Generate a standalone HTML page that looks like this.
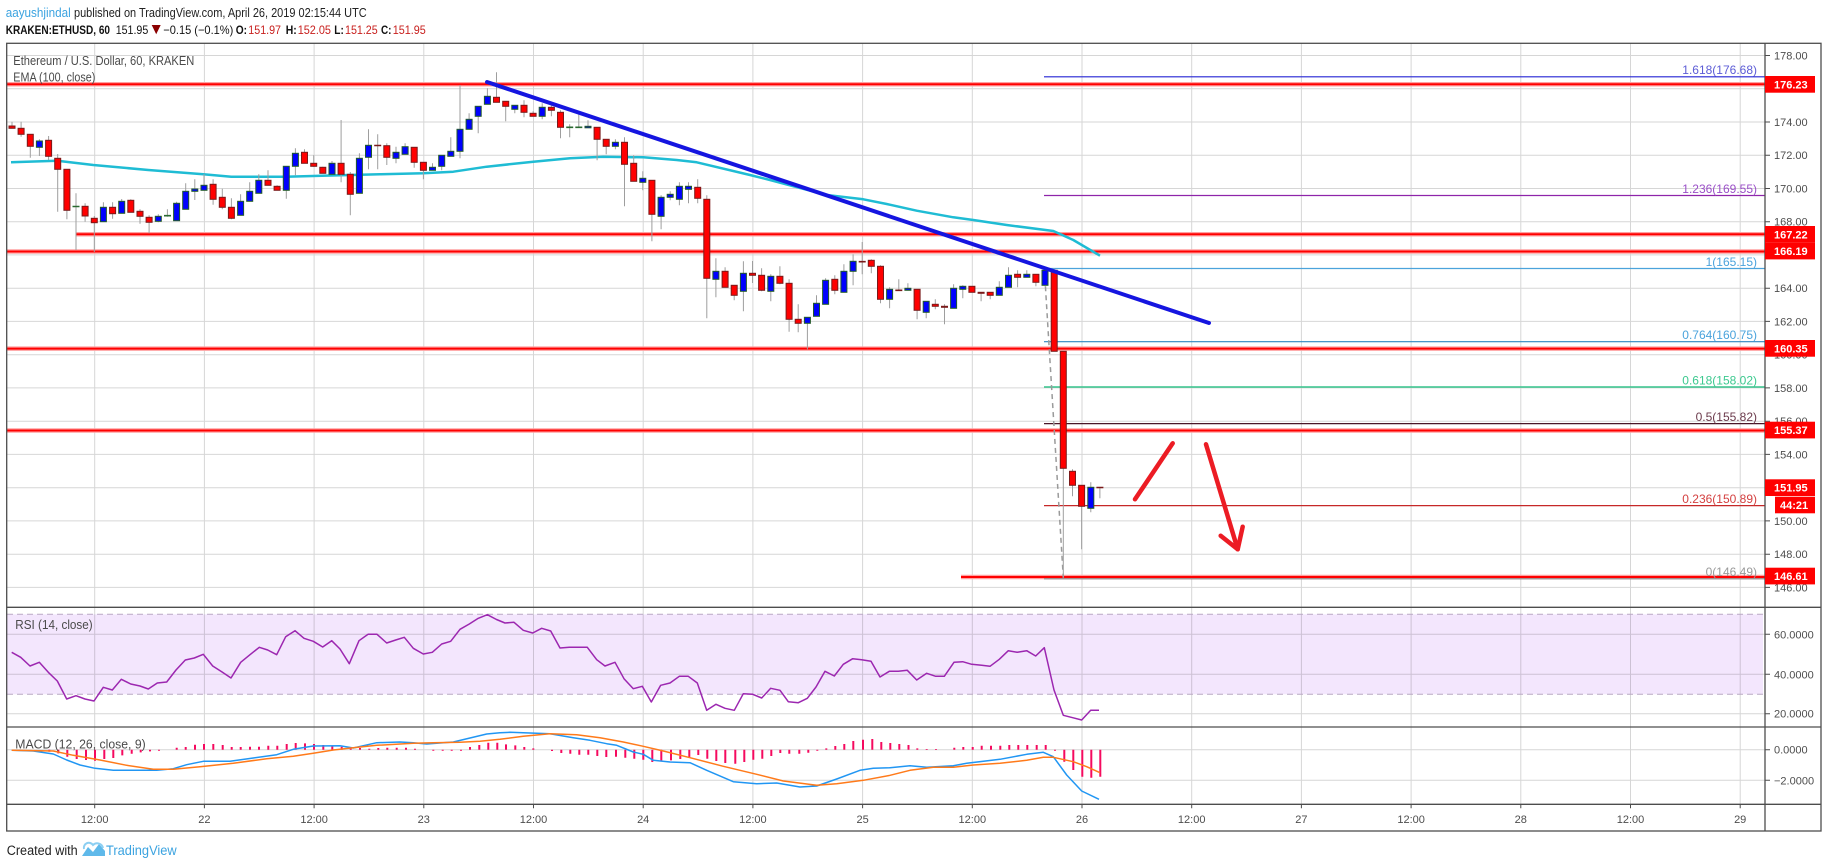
<!DOCTYPE html>
<html><head><meta charset="utf-8"><style>
html,body{margin:0;padding:0;background:#fff;}
svg{display:block;}
text{font-family:"Liberation Sans",Arial,sans-serif;}
</style></head><body>
<svg width="1828" height="868" viewBox="0 0 1828 868" xmlns="http://www.w3.org/2000/svg">
<rect width="1828" height="868" fill="#fff"/>
<!-- header -->
<text x="5.7" y="17" font-size="13" fill="#3ba3e0" textLength="65" lengthAdjust="spacingAndGlyphs">aayushjindal</text>
<text x="74" y="17" font-size="13" fill="#222" textLength="292.7" lengthAdjust="spacingAndGlyphs">published on TradingView.com, April 26, 2019 02:15:44 UTC</text>
<g font-size="12" fill="#111">
<text x="5.7" y="34" font-weight="bold" textLength="104.3" lengthAdjust="spacingAndGlyphs">KRAKEN:ETHUSD, 60</text>
<text x="115.7" y="34" textLength="32.6" lengthAdjust="spacingAndGlyphs">151.95</text>
<polygon points="151.7,25 160.7,25 156.2,34.3" fill="#8b0000"/>
<text x="163.3" y="34" textLength="70" lengthAdjust="spacingAndGlyphs">−0.15 (−0.1%)</text>
<text x="235.7" y="34" font-weight="bold" textLength="11.3" lengthAdjust="spacingAndGlyphs">O:</text>
<text x="248.3" y="34" fill="#c8201e" textLength="32.7" lengthAdjust="spacingAndGlyphs">151.97</text>
<text x="285.7" y="34" font-weight="bold" textLength="11" lengthAdjust="spacingAndGlyphs">H:</text>
<text x="297.7" y="34" fill="#c8201e" textLength="33.3" lengthAdjust="spacingAndGlyphs">152.05</text>
<text x="334.3" y="34" font-weight="bold" textLength="9.5" lengthAdjust="spacingAndGlyphs">L:</text>
<text x="345" y="34" fill="#c8201e" textLength="32.7" lengthAdjust="spacingAndGlyphs">151.25</text>
<text x="381" y="34" font-weight="bold" textLength="10.5" lengthAdjust="spacingAndGlyphs">C:</text>
<text x="392.7" y="34" fill="#c8201e" textLength="33" lengthAdjust="spacingAndGlyphs">151.95</text>
</g>

<!-- RSI background band -->
<rect x="7" y="614.3" width="1756" height="80" fill="#f3e6fd"/>

<!-- grid -->
<path fill="none" stroke="rgba(0,0,0,0.16)" stroke-width="1" d="
M94.7 43V804M204.4 43V804M314.1 43V804M423.8 43V804M533.5 43V804M643.2 43V804M752.9 43V804M862.6 43V804M972.3 43V804M1082 43V804M1191.7 43V804M1301.4 43V804M1411.1 43V804M1520.8 43V804M1630.5 43V804M1740.2 43V804
M7 55.5H1765M7 88.7H1765M7 122H1765M7 155.2H1765M7 188.5H1765M7 221.7H1765M7 254.9H1765M7 288.2H1765M7 321.4H1765M7 354.7H1765M7 387.9H1765M7 421.2H1765M7 454.4H1765M7 487.7H1765M7 520.9H1765M7 554.2H1765M7 587.4H1765
M7 634.3H1765M7 674.3H1765M7 713.7H1765
M7 749.7H1765M7 780.3H1765"/>
<path fill="none" stroke="#b9a9c4" stroke-width="1" stroke-dasharray="6 4" d="M7 614.3H1763M7 694.3H1763"/>

<!-- red horizontal levels -->
<path fill="none" stroke="#ffa0a0" stroke-width="4.5" d="M7 84.3H1765M76 234.3H1765M7 251.5H1765M7 348.6H1765M7 430.5H1765M961 577H1765"/>
<path fill="none" stroke="#ff0000" stroke-width="2" d="M7 84.3H1765M76 234.3H1765M7 251.5H1765M7 348.6H1765M7 430.5H1765M961 577H1765"/>

<!-- fib lines -->
<g fill="none" stroke-width="1.2">
<path d="M1044 76.8H1765" stroke="#2424d4"/>
<path d="M1044 195.5H1765" stroke="#8e24aa"/>
<path d="M1044 268.5H1765" stroke="#4ba3dc"/>
<path d="M1044 341.7H1765" stroke="#2f86c0"/>
<path d="M1044 387H1765" stroke="#35c48c" stroke-width="1.6"/>
<path d="M1044 423.6H1765" stroke="#4a1728"/>
<path d="M1044 505.6H1765" stroke="#c62828"/>
<path d="M1044 578.8H1765" stroke="#888"/>
</g>
<g font-size="12" text-anchor="end">
<text x="1757" y="74" fill="#5c5cd6">1.618(176.68)</text>
<text x="1757" y="193" fill="#9b4fc8">1.236(169.55)</text>
<text x="1757" y="266" fill="#4ba3dc">1(165.15)</text>
<text x="1757" y="339" fill="#4aa3dc">0.764(160.75)</text>
<text x="1757" y="384.5" fill="#3cc98f">0.618(158.02)</text>
<text x="1757" y="421" fill="#6b3a4b">0.5(155.82)</text>
<text x="1757" y="503" fill="#d44040">0.236(150.89)</text>
<text x="1757" y="576" fill="#999">0(146.49)</text>
</g>

<!-- EMA -->
<polyline fill="none" stroke="#1fbcd4" stroke-width="2.5" stroke-linejoin="round" points="11,162.3 57.3,160.7 93.3,165 148.3,170 203.3,174.3 231.3,176.7 285.3,176.7 340.3,175.3 380,174.3 423.3,173.3 453.3,171.7 486.7,166.7 533.3,161.7 570,158.3 603.3,156.7 643.3,157.3 676.7,160 696.7,162.3 750,175 770,180 826.7,195 863.3,199.3 886.7,204 916.7,210.7 953.3,217.3 973.3,220 1006.7,225 1053.3,231 1073.3,240 1100,255.7"/>

<!-- fib trend dashed -->
<path d="M1044.3 268.3L1063.3 577.7" stroke="#9a9a9a" stroke-width="1.5" stroke-dasharray="5 4" fill="none"/>

<!-- wicks -->
<path fill="none" stroke="#9e9e9e" stroke-width="1" d="M12 121.7V128.3M21.1 121.7V136.7M30.3 134.3V157.7M39.4 139.3V156M48.6 136V160M57.7 154V211.7M66.9 169.3V219.3M76 193.3V250M85.1 203.3V221.7M94.3 216V252M103.4 202.3V221.7M112.6 202.3V218.7M121.7 199V213.3M130.8 199.3V212.3M140 209.3V223.7M149.1 215.3V233.3M158.3 214.3V222.3M167.4 209.3V216.7M176.6 201.7V220.7M185.7 183.3V209.3M194.8 179.3V200M204 174V190.3M213.1 179.3V204.7M222.3 188.7V209.3M231.4 198.3V219.3M240.6 194.3V215.3M249.7 182.3V201.3M258.8 174.3V193.3M268 170.3V185.3M277.1 185.3V190.3M286.3 166.3V198.7M295.4 148.3V175.3M304.5 149.3V163.3M313.7 155.3V166.7M322.8 166.7V173.3M332 161V174.3M341.1 120V182.3M350.3 172V215.3M359.4 153.3V193.3M368.5 129.3V169.3M377.7 134.3V169.3M386.8 143.3V165M396 146.7V163.3M405.1 143.3V154.3M414.2 147.3V167.7M423.4 162.3V179.3M432.5 163.3V170.3M441.7 155.3V170.3M450.8 137.3V156.3M460 85V158.3M469.1 113.3V129.3M478.2 106.3V133.3M487.4 88.3V104.3M496.5 72.3V102.3M505.7 101.3V121.3M514.8 105.3V113.3M524 100.3V117.3M533.1 111.3V116.3M542.2 103.3V119.3M551.4 104.3V116.3M560.5 110.3V138.3M569.7 124.3V137.3M578.8 113.3V127.3M588 120.3V127.3M597.1 127.3V160.3M606.2 139.3V154.3M615.4 139.3V149.3M624.5 137.3V206.3M633.7 155.3V181.3M642.8 171.3V190.3M651.9 180.3V241.3M661.1 195.3V229.3M670.2 191.3V200.3M679.4 182.3V205.3M688.5 182.3V203.3M697.7 179.3V203.3M706.8 195.3V318.3M715.9 258.3V297.3M725.1 267.3V287.3M734.2 285.3V300.3M743.4 261.3V311.3M752.5 261V283M761.6 268.3V291.3M770.8 274.3V301.3M779.9 266.3V284.3M789.1 279.3V331.7M798.2 304.3V332.3M807.4 317.3V349.3M816.5 295.3V316.3M825.6 278.3V304.3M834.8 275.3V294.3M843.9 264.3V292.3M853.1 254.3V285.3M862.2 242V274.3M871.3 259.3V273.3M880.5 265.3V303.3M889.6 287.3V308.3M898.8 279.3V290.3M907.9 283.3V290.3M917.1 289.3V319.3M926.2 301.3V318.3M935.3 299.3V309.3M944.5 304.3V324.3M953.6 284.3V308.3M962.8 285.3V298.3M971.9 286.3V292.3M981.1 292.3V301.3M990.2 292.3V299.3M999.3 281.3V295.3M1008.5 267.3V287.3M1017.6 270.3V287.3M1026.8 270.3V277.3M1035.9 274.3V286.3M1045 267.3V285.3M1054.2 268.3V351.3M1063.3 351.3V577.7M1072.5 469.3V496.3M1081.6 485.3V549.3M1090.8 482.3V512.3M1099.9 487.3V498.3"/>

<!-- down candles -->
<g fill="#ff0000" stroke="#7a1a1a" stroke-width="1">
<rect x="9" y="126" width="6" height="2.3"/>
<rect x="18.1" y="128.3" width="6" height="6"/>
<rect x="27.3" y="134.3" width="6" height="12"/>
<rect x="45.6" y="140.3" width="6" height="16"/>
<rect x="54.7" y="158.3" width="6" height="11"/>
<rect x="63.9" y="169.3" width="6" height="41"/>
<rect x="82.1" y="206.3" width="6" height="9.7"/>
<rect x="91.3" y="218.3" width="6" height="4.4"/>
<rect x="109.6" y="207.3" width="6" height="6.4"/>
<rect x="127.8" y="200.3" width="6" height="12"/>
<rect x="137" y="211.3" width="6" height="5"/>
<rect x="146.1" y="217.3" width="6" height="5"/>
<rect x="210.1" y="184.3" width="6" height="15"/>
<rect x="219.3" y="197.3" width="6" height="10"/>
<rect x="228.4" y="207.3" width="6" height="11"/>
<rect x="265" y="180.3" width="6" height="5"/>
<rect x="274.1" y="186.3" width="6" height="4"/>
<rect x="301.5" y="152.3" width="6" height="11"/>
<rect x="310.7" y="163.3" width="6" height="3"/>
<rect x="319.8" y="167.3" width="6" height="6"/>
<rect x="338.1" y="163.3" width="6" height="11"/>
<rect x="347.3" y="174.3" width="6" height="20"/>
<rect x="383.8" y="145.7" width="6" height="11.6"/>
<rect x="411.2" y="147.3" width="6" height="15"/>
<rect x="420.4" y="162.3" width="6" height="8"/>
<rect x="493.5" y="97.3" width="6" height="5"/>
<rect x="502.7" y="101.3" width="6" height="5"/>
<rect x="521" y="105.3" width="6" height="7"/>
<rect x="530.1" y="113.3" width="6" height="3"/>
<rect x="548.4" y="107.3" width="6" height="3"/>
<rect x="557.5" y="112.3" width="6" height="15"/>
<rect x="594.1" y="127.3" width="6" height="12"/>
<rect x="603.2" y="139.3" width="6" height="7"/>
<rect x="621.5" y="142.3" width="6" height="22"/>
<rect x="630.7" y="163.3" width="6" height="18"/>
<rect x="648.9" y="180.3" width="6" height="34"/>
<rect x="694.7" y="187.3" width="6" height="11"/>
<rect x="703.8" y="199.3" width="6" height="79"/>
<rect x="722.1" y="271.3" width="6" height="16"/>
<rect x="731.2" y="285.3" width="6" height="10"/>
<rect x="749.5" y="273.3" width="6" height="2"/>
<rect x="758.6" y="275.3" width="6" height="15"/>
<rect x="776.9" y="276.3" width="6" height="7"/>
<rect x="786.1" y="283.3" width="6" height="36"/>
<rect x="795.2" y="319.3" width="6" height="4"/>
<rect x="831.8" y="279.3" width="6" height="11"/>
<rect x="868.3" y="260.3" width="6" height="6"/>
<rect x="877.5" y="266.3" width="6" height="33"/>
<rect x="914.1" y="289.3" width="6" height="21"/>
<rect x="932.3" y="304.3" width="6" height="2"/>
<rect x="941.5" y="306.3" width="6" height="1"/>
<rect x="968.9" y="286.3" width="6" height="6"/>
<rect x="978.1" y="292.3" width="6" height="1"/>
<rect x="987.2" y="292.3" width="6" height="3"/>
<rect x="1014.6" y="274.3" width="6" height="3"/>
<rect x="1032.9" y="274.3" width="6" height="8"/>
<rect x="1051.2" y="270.3" width="6" height="81"/>
<rect x="1060.3" y="351.3" width="6" height="117"/>
<rect x="1069.5" y="471.3" width="6" height="14"/>
<rect x="1078.6" y="485.3" width="6" height="21"/>
</g>
<!-- up candles -->
<g fill="#0000ff" stroke="#235a2a" stroke-width="1">
<rect x="36.4" y="141" width="6" height="6.3"/>
<rect x="100.4" y="207.3" width="6" height="14.4"/>
<rect x="118.7" y="201.3" width="6" height="12"/>
<rect x="155.3" y="216.3" width="6" height="5"/>
<rect x="173.6" y="203.3" width="6" height="17.4"/>
<rect x="182.7" y="191.3" width="6" height="18"/>
<rect x="191.8" y="189" width="6" height="2.3"/>
<rect x="201" y="185.3" width="6" height="5"/>
<rect x="237.6" y="201.3" width="6" height="14"/>
<rect x="246.7" y="191.3" width="6" height="10"/>
<rect x="255.8" y="180.3" width="6" height="13"/>
<rect x="283.3" y="166.3" width="6" height="24"/>
<rect x="292.4" y="153.3" width="6" height="13"/>
<rect x="329" y="163.3" width="6" height="11"/>
<rect x="356.4" y="158.3" width="6" height="35"/>
<rect x="365.5" y="145.3" width="6" height="12"/>
<rect x="393" y="152.3" width="6" height="6"/>
<rect x="402.1" y="146.7" width="6" height="7.6"/>
<rect x="429.5" y="167.3" width="6" height="3"/>
<rect x="438.7" y="155.3" width="6" height="11"/>
<rect x="447.8" y="151.3" width="6" height="5"/>
<rect x="457" y="129.3" width="6" height="22"/>
<rect x="466.1" y="119.3" width="6" height="10"/>
<rect x="475.2" y="106.3" width="6" height="10"/>
<rect x="484.4" y="96.3" width="6" height="8"/>
<rect x="511.8" y="105.3" width="6" height="4"/>
<rect x="539.2" y="107.3" width="6" height="9"/>
<rect x="585" y="126.3" width="6" height="1.5"/>
<rect x="612.4" y="142.3" width="6" height="4"/>
<rect x="639.8" y="178.3" width="6" height="4"/>
<rect x="658.1" y="197.3" width="6" height="19"/>
<rect x="667.2" y="194.3" width="6" height="3"/>
<rect x="676.4" y="186.3" width="6" height="13"/>
<rect x="685.5" y="186.3" width="6" height="3"/>
<rect x="712.9" y="271.3" width="6" height="8"/>
<rect x="740.4" y="273.3" width="6" height="18"/>
<rect x="767.8" y="276.3" width="6" height="15"/>
<rect x="804.4" y="317.3" width="6" height="6"/>
<rect x="813.5" y="303.3" width="6" height="13"/>
<rect x="822.6" y="280.3" width="6" height="24"/>
<rect x="840.9" y="271.3" width="6" height="21"/>
<rect x="850.1" y="261.3" width="6" height="10"/>
<rect x="886.6" y="289.3" width="6" height="10"/>
<rect x="904.9" y="288.3" width="6" height="2"/>
<rect x="923.2" y="301.3" width="6" height="11"/>
<rect x="950.6" y="288.3" width="6" height="20"/>
<rect x="959.8" y="286.3" width="6" height="3"/>
<rect x="996.3" y="287.3" width="6" height="8"/>
<rect x="1005.5" y="275.3" width="6" height="12"/>
<rect x="1023.8" y="274.3" width="6" height="3"/>
<rect x="1042" y="270.3" width="6" height="15"/>
<rect x="1087.8" y="487.3" width="6" height="21"/>
</g>
<!-- dojis -->
<path fill="none" stroke="#2a6a30" stroke-width="1.6" d="M72.5 206.5H79.5M164 215.7H171M566.2 127.3H573.2M575.3 127.3H582.3"/>
<path fill="none" stroke="#7a1a1a" stroke-width="1.6" d="M374.2 145.5H381.2M858.7 261.7H865.7M895.3 290.3H902.3M1096.4 487.5H1103.4"/>

<!-- trendline -->
<path d="M487 82L1209 323" stroke="#1515e0" stroke-width="4" fill="none" stroke-linecap="round"/>

<!-- arrows -->
<g stroke="#ec1c24" stroke-width="4.5" stroke-linecap="round" stroke-linejoin="round" fill="none">
<path d="M1135 499.3L1172.7 443.3"/>
<path d="M1206 444.3L1237.7 549.3"/>
<path d="M1220.7 535.7L1237.7 549.3L1242.7 526.7"/>
</g>

<!-- legends -->
<text x="13.3" y="65" font-size="12.5" fill="#4a4a4a" textLength="181" lengthAdjust="spacingAndGlyphs">Ethereum / U.S. Dollar, 60, KRAKEN</text>
<text x="13.3" y="81.5" font-size="12.5" fill="#4a4a4a" textLength="82" lengthAdjust="spacingAndGlyphs">EMA (100, close)</text>

<!-- RSI -->
<polyline fill="none" stroke="#9c27b0" stroke-width="1.5" stroke-linejoin="round" points="11.7,652.3 20.7,657.3 30,666 39.3,662.3 48.3,672.3 57.3,681 66.7,699 76,695.7 85,699 94,701 103.3,687.3 112.3,690 121.3,679.3 130.7,684 140,686 148.3,689 157.3,683 166.7,682 176,670 185.3,660 194.3,658 203.3,654.3 212.7,666 221.7,671.7 231,678 240.7,662.3 250,654.7 259.3,647.3 267.7,650 276.7,654.7 285.7,636.7 295,630.7 304,638.3 313.3,641.3 322.7,647 331.7,640.7 340,649 349.3,663.7 359,640.7 368,634.3 377,634.3 386.7,643 395.7,640 404.3,637.3 413.3,648.3 423.3,654 432.3,652.3 441.7,644 450.7,641.3 460,629.3 469.3,624 478.3,618.3 487.3,614.7 496.5,619.5 505,623 514,622.3 523.3,630.3 532.7,633 541.7,628.3 550.7,631 560,648 569.3,647.3 578.3,647.3 587.3,647.3 596.7,659.7 605,666 615,662.3 624,678.7 633.3,688.7 642.3,686.3 651.3,702 660.7,685.3 670,683 679.3,676.3 688.3,676.3 697.3,683 706.7,710.3 716,704.3 725,708.3 734.3,710.3 743.3,693.7 752.7,694.3 761.7,698 770.7,688.3 780,690.3 788.3,701.7 798.3,702.7 807.3,698.3 816,687 825,671.3 834.3,676 843.3,664.3 852.7,658.7 861.7,659.7 871,661.3 880,677 889.3,671.3 898.3,671.3 907.3,670.3 916.7,680 926.7,673.3 935.7,676.3 944.3,676.3 954,662.3 962.7,661.7 971.7,664.3 981.7,665.3 990,666.3 999.3,659.3 1008.3,650.7 1017.3,652.3 1026.7,650.7 1035.7,656 1044.3,647.7 1054,690 1063.3,715.3 1072.7,717.7 1081.7,720 1090.7,710.3 1099,710.3"/>
<text x="15.3" y="629" font-size="12.5" fill="#4a4a4a" textLength="77.4" lengthAdjust="spacingAndGlyphs">RSI (14, close)</text>

<!-- MACD histogram -->
<path fill="none" stroke="#f50a5f" stroke-width="2" d="M49.3 749.7v2M58.3 749.7v3.7M67.3 749.7v7M76.7 749.7v9.3M86 749.7v10.3M95 749.7v11M104.3 749.7v9.3M113.3 749.7v8.3M122.3 749.7v5.7M131.7 749.7v4M140.7 749.7v2.7M150 749.7v1.7M159 749.7v1M176.7 749.7v-2M185.7 749.7v-2.7M195 749.7v-5M204 749.7v-5.7M213.3 749.7v-5.7M222.7 749.7v-4.7M231.7 749.7v-2.7M240.7 749.7v-2.7M250 749.7v-3M259 749.7v-3M268.3 749.7v-4M277.3 749.7v-4M286.7 749.7v-5.7M295.7 749.7v-6.7M305 749.7v-6.3M314 749.7v-5.7M323.3 749.7v-4.7M332.3 749.7v-3.7M341.7 749.7v-3M350.7 749.7v-2.3M360 749.7v-1.7M369.3 749.7v-1M378.3 749.7v-1.7M387.3 749.7v-2M396.7 749.7v-2M406 749.7v-2M415 749.7v-1M433.3 749.7v1M442.7 749.7v1M451.7 749.7v1M461 749.7v1M470 749.7v-2.7M479.3 749.7v-4.7M488.3 749.7v-7M497.3 749.7v-7M506 749.7v-5.3M515.3 749.7v-4.3M524.3 749.7v-2.7M533.3 749.7v-1.3M552 749.7v1.3M561.3 749.7v3.3M570.3 749.7v4M579.3 749.7v5M588.3 749.7v5M597.3 749.7v6.3M606.3 749.7v7.3M616 749.7v7M625.3 749.7v8M634.3 749.7v9M643.3 749.7v10M652.3 749.7v12.3M661.3 749.7v11.3M671 749.7v10.7M680.3 749.7v9.3M689.3 749.7v7.3M698.3 749.7v5.3M707.3 749.7v9M716.3 749.7v11.3M725.3 749.7v13.3M735.3 749.7v14M744.3 749.7v12.3M753.3 749.7v10M762.3 749.7v9M771.3 749.7v6.3M780.3 749.7v3.3M789.3 749.7v4M799.3 749.7v4M808.3 749.7v3M817.3 749.7v1M826.3 749.7v-1.3M835.3 749.7v-3.7M844.3 749.7v-5.7M853.3 749.7v-8.7M863 749.7v-10M872.3 749.7v-10.7M881.3 749.7v-7.7M890.3 749.7v-6.7M899.3 749.7v-5.7M908.5 749.7v-4.7M917.3 749.7v-1.3M926.7 749.7v-0.7M936 749.7v-0.7M954.3 749.7v-2M963.3 749.7v-2.7M972.7 749.7v-2.7M981.7 749.7v-4M991 749.7v-4M1000.3 749.7v-4M1009.3 749.7v-4.7M1018.3 749.7v-4.7M1027.3 749.7v-4.7M1036.7 749.7v-4.7M1045.7 749.7v-4.7M1055 749.7v1M1064.3 749.7v12M1073.3 749.7v20.3M1082.3 749.7v27M1091.3 749.7v28M1100.3 749.7v27"/>
<polyline fill="none" stroke="#2196f3" stroke-width="1.5" stroke-linejoin="round" points="11.7,750.3 33.3,751 53.3,754 66.7,760 80,765 95,768.3 113.3,770.3 133.3,770.3 156.7,770.3 173.3,768.7 186.7,764.7 203.3,761.3 230,761.3 253.3,758 276.7,754.7 293.3,749.3 313.3,746 340,745.7 353.3,748 376.7,742.7 400,742 413.3,742.7 426.7,744 453.3,742 486.7,734 500,732.7 510,732.3 523.3,732.7 550,733.7 573.3,737.7 590,740.3 606.7,743.7 616.7,745.3 633.3,752 643.3,754.3 653.3,760.3 670,762 690,762.7 706.7,770.3 733.3,781.7 756.7,783.7 776.7,783 800,787 816.7,786 836.7,779 860,770.3 873.3,768.3 890,767.7 910,765.7 926.7,767.3 953.3,765.7 966.7,763.3 1000,759.3 1026.7,754.3 1043.3,752.3 1053.3,756.7 1066.7,775 1081.7,791 1099,799.3"/>
<polyline fill="none" stroke="#ff7a1a" stroke-width="1.5" stroke-linejoin="round" points="11.7,750.3 53.3,751 73.3,755.3 100,760 126.7,765.3 153.3,769.3 173.3,769.3 200,766.7 233.3,763.3 266.7,758.7 293.3,756.3 313.3,753.3 333.3,750 353.3,747.7 376.7,745.3 413.3,743.3 433.3,742.7 460,742.3 480,741.3 500,739.3 523.3,736.3 550,733.7 576.7,734.7 600,737.7 623.3,742 643.3,746.3 663.3,751 690,757.7 723.3,766.3 756.7,774.3 783.3,781 816.7,785.3 836.7,783.7 863.3,780.3 890,775.3 910,770.3 933.3,767.3 953.3,767.3 973.3,765 1000,763.3 1026.7,760.3 1043.3,757.3 1053.3,757.3 1073.3,761.7 1086.7,766.7 1100,772.7"/>
<text x="15.3" y="748.5" font-size="12.5" fill="#4a4a4a" textLength="130.4" lengthAdjust="spacingAndGlyphs">MACD (12, 26, close, 9)</text>

<!-- frame -->
<g fill="none" stroke="#4d4d4d" stroke-width="1.3">
<rect x="6.7" y="43.3" width="1814.3" height="787.7"/>
<path d="M1765 43.3V831M6.7 607.3H1821M6.7 727H1821M6.7 804.3H1821"/>
</g>
<!-- axis ticks -->
<path fill="none" stroke="#4d4d4d" stroke-width="1" d="M1765 55.5h5M1765 122h5M1765 155.2h5M1765 188.5h5M1765 221.7h5M1765 288.2h5M1765 321.4h5M1765 387.9h5M1765 421.2h5M1765 454.4h5M1765 520.9h5M1765 554.2h5M1765 587.4h5M1765 634.3h5M1765 674.3h5M1765 713.7h5M1765 749.7h5M1765 780.3h5
M94.7 804.3v4M204.4 804.3v4M314.1 804.3v4M423.8 804.3v4M533.5 804.3v4M643.2 804.3v4M752.9 804.3v4M862.6 804.3v4M972.3 804.3v4M1082 804.3v4M1191.7 804.3v4M1301.4 804.3v4M1411.1 804.3v4M1520.8 804.3v4M1630.5 804.3v4M1740.2 804.3v4"/>

<!-- price axis labels -->
<g font-size="11" fill="#4d4d4d">
<text x="1774" y="59.5">178.00</text>
<text x="1774" y="126">174.00</text>
<text x="1774" y="159.2">172.00</text>
<text x="1774" y="192.5">170.00</text>
<text x="1774" y="225.7">168.00</text>
<text x="1774" y="259">166.00</text>
<text x="1774" y="292.2">164.00</text>
<text x="1774" y="325.4">162.00</text>
<text x="1774" y="358.7">160.00</text>
<text x="1774" y="391.9">158.00</text>
<text x="1774" y="425.2">156.00</text>
<text x="1774" y="458.4">154.00</text>
<text x="1774" y="524.9">150.00</text>
<text x="1774" y="558.2">148.00</text>
<text x="1774" y="591.4">146.00</text>
<text x="1774" y="638.3">60.0000</text>
<text x="1774" y="678.3">40.0000</text>
<text x="1774" y="717.7">20.0000</text>
<text x="1774" y="753.7">0.0000</text>
<text x="1774" y="784.3">−2.0000</text>
</g>
<!-- price tags -->
<g fill="#ff0000">
<rect x="1765" y="76" width="50" height="16.7"/>
<rect x="1765" y="226" width="50" height="16.7"/>
<rect x="1765" y="242.7" width="50" height="16.7"/>
<rect x="1765" y="340" width="50" height="16.7"/>
<rect x="1765" y="421.7" width="50" height="16.7"/>
<rect x="1765" y="479.3" width="50" height="16.7"/>
<rect x="1775" y="496.7" width="40" height="16.6"/>
<rect x="1765" y="567.7" width="50" height="16.7"/>
</g>
<g font-size="11" font-weight="bold" fill="#fff">
<text x="1774" y="88.4">176.23</text>
<text x="1774" y="238.4">167.22</text>
<text x="1774" y="255.1">166.19</text>
<text x="1774" y="352.4">160.35</text>
<text x="1774" y="434.1">155.37</text>
<text x="1774" y="491.7">151.95</text>
<text x="1780" y="509">44:21</text>
<text x="1774" y="580.1">146.61</text>
</g>

<!-- time axis labels -->
<g font-size="11" fill="#4d4d4d" text-anchor="middle">
<text x="94.7" y="823">12:00</text>
<text x="204.4" y="823">22</text>
<text x="314.1" y="823">12:00</text>
<text x="423.8" y="823">23</text>
<text x="533.5" y="823">12:00</text>
<text x="643.2" y="823">24</text>
<text x="752.9" y="823">12:00</text>
<text x="862.6" y="823">25</text>
<text x="972.3" y="823">12:00</text>
<text x="1082" y="823">26</text>
<text x="1191.7" y="823">12:00</text>
<text x="1301.4" y="823">27</text>
<text x="1411.1" y="823">12:00</text>
<text x="1520.8" y="823">28</text>
<text x="1630.5" y="823">12:00</text>
<text x="1740.2" y="823">29</text>
</g>

<!-- footer -->
<text x="6.7" y="855" font-size="13.5" fill="#222" textLength="71" lengthAdjust="spacingAndGlyphs">Created with</text>
<path d="M82 856 L88 847 L93 852 L99 844 L105 851 L105 856 Z" fill="#5fb9ea"/>
<path d="M84 849 a5 5 0 0 1 9 -4 a6 6 0 0 1 10 3" fill="none" stroke="#8ccff2" stroke-width="2"/>
<text x="106" y="855" font-size="14" fill="#3ba3e0" textLength="70.7" lengthAdjust="spacingAndGlyphs">TradingView</text>
</svg>
</body></html>
